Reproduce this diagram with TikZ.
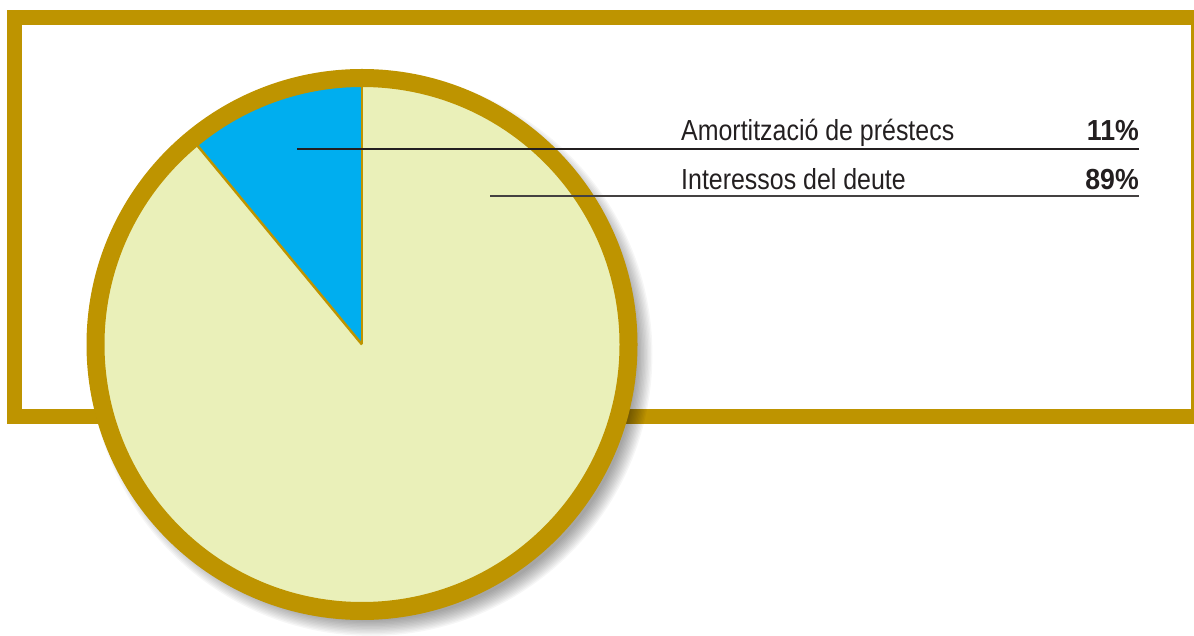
\documentclass[tikz,border=0pt]{standalone}
\usepackage{fontspec}
\setmainfont{Liberation Sans}
\newfontfamily\labelfont{Liberation Sans}[FakeStretch=0.86]
\newfontfamily\valuefont{Liberation Sans}[FakeStretch=0.92]
\usetikzlibrary{calc}
\definecolor{framegold}{RGB}{190,148,0}
\definecolor{piecream}{RGB}{234,240,185}
\definecolor{pieblue}{RGB}{0,174,239}
\definecolor{inkdark}{RGB}{35,31,32}

\begin{document}
\begin{tikzpicture}[
    x=1pt, y=1pt,
    framebox/.style = {draw=framegold, line width=15pt},
    ring/.style = {draw=framegold, line width=18pt},
    divider/.style = {draw=framegold, line width=2.5pt},
    leader/.style = {draw=inkdark, line width=2pt},
    legtext/.style = {font=\labelfont\fontsize{29}{34}\selectfont,
        text=inkdark, inner sep=0pt},
    legvalue/.style = {font=\valuefont\bfseries\fontsize{29}{34}\selectfont,
        text=inkdark, inner sep=0pt}
]
\useasboundingbox (0,0) rectangle (1194,635);
\clip (0,0) rectangle (1194,635);

% ---- Frame ----
\draw[framebox] (14.5,218.5) rectangle (1198.5,617.5);

% ---- Pie ----
\coordinate (centre) at (362,290.5);
% soft shadow, lower right
\foreach \r in {0,...,11}
  \fill[black, opacity=0.035] ($(centre)+(9,-10)$) circle[radius=266pt+\r*1.4pt];
\fill[piecream] (centre) circle[radius=266.5pt];
\fill[pieblue] (centre) -- ++(90:266.5pt)
    arc[start angle=90, end angle=129.6, radius=266.5pt] -- cycle;
\draw[divider] (centre) -- ++(90:260pt);
\draw[divider] (centre) -- ++(129.6:260pt);
\draw[ring] (centre) circle[radius=266.5pt];

% ---- Legend ----
\node[legtext, anchor=base west] (amortlabel) at (681,494) {Amortització de préstecs};
\node[legvalue, anchor=base east] (amortvalue) at (1139,494) {11\%};
\node[legtext, anchor=base west] (interlabel) at (681,445.4) {Interessos del deute};
\node[legvalue, anchor=base east] (intervalue) at (1139,445.4) {89\%};

% ---- Leader lines ----
\coordinate (amortpt) at (297,486);
\coordinate (interpt) at (490,439.3);
\draw[leader] (amortpt) -- (amortpt -| amortvalue.east);
\draw[leader, draw=inkdark!85] (interpt) -- (interpt -| intervalue.east);

\end{tikzpicture}
\end{document}
